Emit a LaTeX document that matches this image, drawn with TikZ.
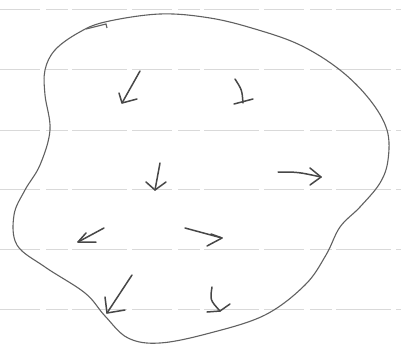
\documentclass[tikz,border=0pt]{standalone}
\begin{document}
\begin{tikzpicture}[x=1pt,y=-1pt,
  paper/.style={draw=black!15,line width=0.7pt,dash pattern=on 40pt off 6pt on 22pt off 4pt on 55pt off 5pt},
  ink/.style={draw=black!72,line width=1.5pt,line cap=round,line join=round},
  blob/.style={draw=black!62,line width=1.1pt}]
\useasboundingbox[fill=white] (0,0) rectangle (401,361);
% ruled paper
\foreach \yy in {9,69,130,189,249,309}{\draw[paper] (0,\yy) -- (401,\yy);}
% outline
\draw[blob] plot[smooth cycle,tension=0.6] coordinates{
 (105,22) (160,14) (210,18) (255,29) (300,45) (340,70) (370,100) (387,130)
 (388,160) (380,183) (360,207) (340,227) (326,255) (305,285) (265,315)
 (210,333) (160,343) (128,338) (105,316) (85,293) (45,267) (17,245)
 (14,215) (25,190) (40,165) (50,130) (45,95) (45,70) (55,50) (78,33)};
\draw[blob] (86,29) -- (106,24) -- (107,28);
% arrows
\draw[ink] (140,71) -- (122,103);
\draw[ink] (119,93) -- (122,103) -- (137,99);
\draw[ink] (235,79) .. controls (242,90) .. (243,103);
\draw[ink] (234,104) -- (253,99);
\draw[ink] (160,163) -- (155,190);
\draw[ink] (146,182) -- (155,190) -- (166,182);
\draw[ink] (278,172) .. controls (298,172) .. (321,177);
\draw[ink] (310,168) -- (321,177) -- (310,185);
\draw[ink] (104,228) -- (78,242);
\draw[ink] (86,233) -- (78,242) -- (96,242);
\draw[ink] (185,228) -- (222,238);
\draw[ink] (211,234) -- (222,238) -- (207,246);
\draw[ink] (132,275) -- (107,313);
\draw[ink] (105,297) -- (107,313) -- (125,310);
\draw[ink] (212,287) .. controls (210,300) .. (220,311);
\draw[ink] (207,312) -- (220,311) -- (230,304);
\end{tikzpicture}
\end{document}
